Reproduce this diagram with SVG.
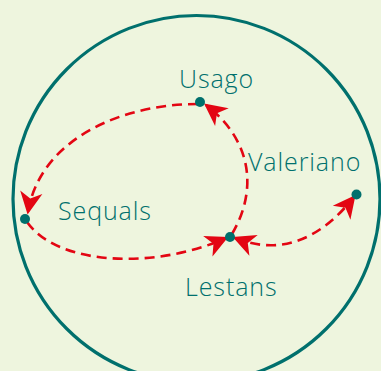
<svg xmlns="http://www.w3.org/2000/svg" width="381" height="371" viewBox="0 0 381 371">
<defs>
<style>
.lbl{font-family:"Open Sans","Liberation Sans",sans-serif;font-size:25px;letter-spacing:0.9px;fill:#00706d;font-weight:300}
.con{fill:none;stroke:#e30613;stroke-width:2.6;stroke-dasharray:10 6}
.dot{fill:#00706d}
</style>
<marker id="ah" markerUnits="userSpaceOnUse" markerWidth="30" markerHeight="30" viewBox="-20 -10 24 20" refX="0" refY="0" orient="auto-start-reverse">
<path d="M2,0 L-16,-9 L-11,0 L-16,9 Z" fill="#e30613"/>
</marker>
</defs>
<rect width="381" height="371" fill="#eef5de"/>
<circle cx="196.5" cy="199" r="183.5" fill="none" stroke="#00706d" stroke-width="3.2"/>
<g id="connectors">
<path class="con" d="M198,104 C120,104 40,140 28,212" marker-end="url(#ah)"/>
<path class="con" d="M27,222 C60,268 160,268 226,238" marker-end="url(#ah)"/>
<path class="con" d="M232,234 C258,190 252,140 206,105" marker-end="url(#ah)"/>
<path class="con" d="M235,238 C280,256 320,240 354,197" marker-start="url(#ah)" marker-end="url(#ah)"/>
</g>
<g id="usago"><circle class="dot" cx="200" cy="102" r="5"/><text class="lbl" x="179" y="88">Usago</text></g>
<g id="sequals"><circle class="dot" cx="25" cy="219" r="5"/><text class="lbl" x="58" y="220">Sequals</text></g>
<g id="lestans"><circle class="dot" cx="230" cy="237" r="5"/><text class="lbl" x="185" y="296">Lestans</text></g>
<g id="valeriano"><circle class="dot" cx="356.5" cy="194.5" r="5"/><text class="lbl" x="248" y="171">Valeriano</text></g>
</svg>
